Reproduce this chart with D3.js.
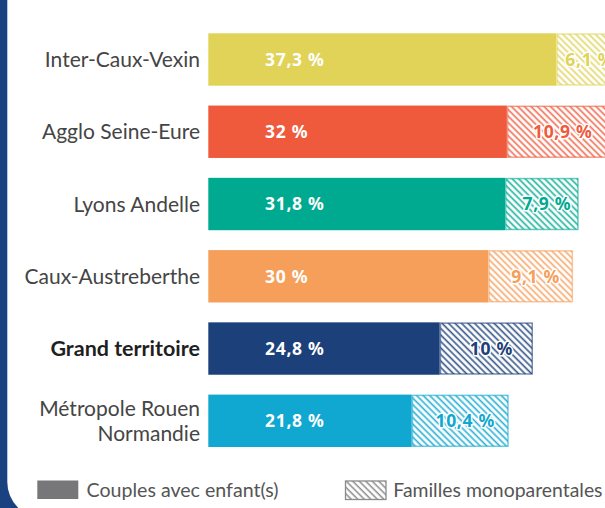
<!DOCTYPE html>
<html><head><meta charset="utf-8">
<script src="https://cdn.jsdelivr.net/npm/d3@7"></script>
<style>
html,body{margin:0;padding:0;background:#fff;overflow:hidden}
svg{display:block}
text{font-family:Lato,"Noto Sans",sans-serif}
text.val{font-family:"Noto Sans","Open Sans",sans-serif}
</style></head>
<body>
<svg id="chart" width="605" height="508"></svg>
<script>
const categories = ["Inter-Caux-Vexin","Agglo Seine-Eure","Lyons Andelle","Caux-Austreberthe","Grand territoire","Métropole Rouen Normandie"];
const categoryLines = [["Inter-Caux-Vexin"],["Agglo Seine-Eure"],["Lyons Andelle"],["Caux-Austreberthe"],["Grand territoire"],["Métropole Rouen","Normandie"]];
const couples = [37.3, 32, 31.8, 30, 24.8, 21.8];
const mono = [6.1, 10.9, 7.9, 9.1, 10, 10.4];
const couplesLabels = ["37,3 %","32 %","31,8 %","30 %","24,8 %","21,8 %"];
const monoLabels = ["6,1 %","10,9 %","7,9 %","9,1 %","10 %","10,4 %"];
const colors = ["#E0D358","#EF5A3D","#00AA91","#F59F5B","#1C4079","#10A7D0"];
const boldCategory = "Grand territoire";
const legendLabels = ["Couples avec enfant(s)","Familles monoparentales"];

const svg = d3.select("#chart");

// frame
svg.append("rect").attr("x",0).attr("y",0).attr("width",605).attr("height",508).attr("fill","#1B4280");
svg.append("rect").attr("x",7.3).attr("y",-40).attr("width",700).attr("height",558).attr("rx",36).attr("ry",36).attr("fill","#fff");

const x = d3.scaleLinear().domain([0,40]).range([208.3, 208.3 + 40*9.33]);
const y = d3.scaleBand().domain(categories).range([33.3, 447]).paddingInner(0.275).paddingOuter(0);

const defs = svg.append("defs");
colors.forEach((c,i)=>{
  const p = defs.append("pattern").attr("id","hatch"+i).attr("patternUnits","userSpaceOnUse")
    .attr("width",4.6).attr("height",4.6).attr("patternTransform","rotate(-45)");
  p.append("rect").attr("width",4.6).attr("height",4.6).attr("fill","#fff");
  p.append("line").attr("x1",1.2).attr("x2",1.2).attr("y1",0).attr("y2",4.6)
    .attr("stroke",c).attr("stroke-width",1.7).attr("stroke-opacity",0.85);
});
const lp = defs.append("pattern").attr("id","hatchLegend").attr("patternUnits","userSpaceOnUse")
  .attr("width",4.6).attr("height",4.6).attr("patternTransform","rotate(-45)");
lp.append("rect").attr("width",4.6).attr("height",4.6).attr("fill","#fff");
lp.append("line").attr("x1",1.2).attr("x2",1.2).attr("y1",0).attr("y2",4.6).attr("stroke","#8a8a8a").attr("stroke-width",1.5);

const rows = svg.append("g").selectAll("g").data(categories).join("g");

// couples bars
rows.append("rect")
  .attr("x", x(0)).attr("y", d=>y(d))
  .attr("width", (d,i)=>x(couples[i])-x(0)).attr("height", y.bandwidth())
  .attr("fill", (d,i)=>colors[i]);

// mono bars
rows.append("rect")
  .attr("x", (d,i)=>x(couples[i])+0.75).attr("y", d=>y(d)+0.75)
  .attr("width", (d,i)=>x(couples[i]+mono[i])-x(couples[i])-1.5).attr("height", y.bandwidth()-1.5)
  .attr("fill", (d,i)=>`url(#hatch${i})`)
  .attr("stroke", (d,i)=>colors[i]).attr("stroke-width",1.5).attr("stroke-opacity",0.6);

// couples labels
rows.append("text").attr("class","val")
  .attr("x", 265).attr("y", d=>y(d)+y.bandwidth()/2)
  .attr("dy","0.36em")
  .attr("fill","#fff").attr("font-weight","bold").attr("font-size",17.5).attr("letter-spacing",0.7)
  .text((d,i)=>couplesLabels[i]);

// mono labels
rows.append("text").attr("class","val")
  .attr("x", (d,i)=>(x(couples[i])+x(couples[i]+mono[i]))/2+5)
  .attr("y", d=>y(d)+y.bandwidth()/2)
  .attr("dy","0.36em").attr("text-anchor","middle")
  .attr("fill",(d,i)=>colors[i]).attr("font-weight","bold").attr("font-size",17.5).attr("letter-spacing",0.7)
  .attr("stroke","#fff").attr("stroke-width",3).attr("paint-order","stroke").attr("stroke-linejoin","round")
  .text((d,i)=>monoLabels[i]);

// category labels
rows.each(function(d,i){
  const lines = categoryLines[i];
  const bold = d===boldCategory;
  const t = d3.select(this).append("text")
    .attr("x",200).attr("text-anchor","end")
    .attr("font-size", bold ? 21.5 : 21)
    .attr("fill", bold ? "#1f1f1f" : "#454545")
    .attr("font-weight", bold ? "bold" : "normal");
  const cy = y(d)+y.bandwidth()/2;
  lines.forEach((ln,j)=>{
    t.append("tspan").attr("x",200).attr("y", cy + (j-(lines.length-1)/2)*25).attr("dy","0.36em").text(ln);
  });
});

// legend
const lg = svg.append("g");
lg.append("rect").attr("x",37.3).attr("y",480.5).attr("width",41).attr("height",18.5).attr("fill","#77777A");
lg.append("text").attr("x",86.5).attr("y",490).attr("dy","0.36em").attr("font-size",19.6).attr("fill","#555").text(legendLabels[0]);
lg.append("rect").attr("x",345.5).attr("y",481).attr("width",40.5).attr("height",18.5).attr("fill","url(#hatchLegend)").attr("stroke","#8a8a8a").attr("stroke-width",1.3);
lg.append("text").attr("x",393.3).attr("y",490).attr("dy","0.36em").attr("font-size",19.4).attr("fill","#555").text(legendLabels[1]);
</script>
</body></html>
